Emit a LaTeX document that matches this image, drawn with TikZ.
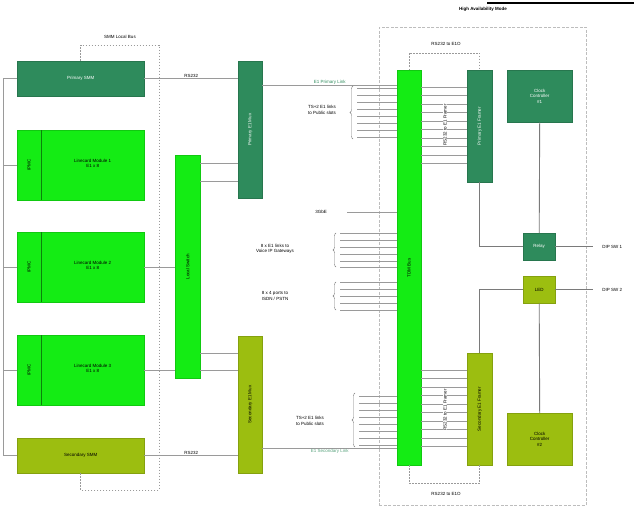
\documentclass[tikz,border=0pt]{standalone}
\usepackage{fontspec}
\setmainfont{Liberation Sans}
\usetikzlibrary{decorations.pathreplacing,calc}

\definecolor{smmdark}{HTML}{2E8B5C}
\definecolor{brightg}{HTML}{14EC14}
\definecolor{olivegr}{HTML}{9CBE10}
\definecolor{wire}{HTML}{9A9A9A}
\definecolor{darkwire}{HTML}{7A7A7A}
\definecolor{frame}{HTML}{BDBDBD}

\tikzset{
  blk/.style={draw=#1!85!black, fill=#1, line width=0.4pt, inner sep=0pt, anchor=north west},
  vtext/.style={rotate=90, inner sep=0pt},
  wireline/.style={draw=wire, line width=0.5pt},
  heavywire/.style={draw=darkwire, line width=0.9pt},
  busdash/.style={draw=wire, line width=0.5pt, dash pattern=on 1.5pt off 1.5pt},
  lbl/.style={inner sep=0.5pt, align=center},
  bracelbl/.style={draw=darkwire, line width=0.4pt, decorate, decoration={brace, amplitude=3pt}},
}

\begin{document}
\begin{tikzpicture}[x=1pt, y=-1pt, font=\fontsize{4.5}{5.4}\selectfont]
\useasboundingbox (0,0) rectangle (634,511);

% ---------- left column: SMMs and line cards ----------
\node[blk=smmdark, minimum width=127, minimum height=35] (psmm) at (17,61) {};
\node[lbl, text=white] at (psmm.center) {Primary SMM};

\foreach \n/\y/\t in {lc1/130/1, lc2/232/2, lc3/335/3}{
  \node[blk=brightg, minimum width=127, minimum height=70] (\n) at (17,\y) {};
  \draw[draw=brightg!55!black, line width=0.4pt]
    ($(\n.north west)+(24,0)$) -- ($(\n.south west)+(24,0)$);
  \node[vtext] at ($(\n.west)+(12,0)$) {IPMC};
  \node[lbl] at ($(\n.center)+(12,-2)$) {Linecard Module \t\\E1 x 8};
}

\node[blk=olivegr, minimum width=127, minimum height=35] (ssmm) at (17,438) {};
\node[lbl] at (ssmm.center) {Secondary SMM};

% shared backplane line on the far left
\coordinate (lb) at (3,0);
\draw[wireline] (psmm.west) -| (lb |- ssmm.west) -- (ssmm.west);
\foreach \n in {lc1,lc2,lc3}{ \draw[wireline] (lb |- \n.west) -- (\n.west); }

% SMM local bus
\draw[busdash] (psmm.north) |- (159,45) -- (159,490) -| (ssmm.south);
\node[lbl] at (120,37) {SMM Local Bus};

% ---------- switch and E1 multiplexers ----------
\node[blk=brightg, minimum width=25, minimum height=223] (lsw) at (175,155) {};
\node[vtext] at (lsw.center) {Local Switch};

\node[blk=smmdark, minimum width=24, minimum height=137] (pmux) at (238,61) {};
\node[vtext, text=white] at (pmux.center) {Primary E1 Mux};

\node[blk=olivegr, minimum width=24, minimum height=137] (smux) at (238,336) {};
\node[vtext] at (smux.center) {Secondary E1 Mux};

\draw[wireline] (psmm.east) -- node[lbl, above=0.3pt] {RS232} (pmux.west |- psmm.east);
\draw[wireline] (ssmm.east) -- node[lbl, above=0.3pt] {RS232} (smux.west |- ssmm.east);

\draw[wireline] (lc2.east) -- (lsw.west |- lc2.east);
\draw[wireline] (lc3.east) -- (lsw.west |- lc3.east);
\foreach \y in {163,181}{ \draw[wireline] (lsw.east |- 0,\y) -- (pmux.west |- 0,\y); }
\foreach \y in {353,370}{ \draw[wireline] (lsw.east |- 0,\y) -- (smux.west |- 0,\y); }

% ---------- high availability area ----------
\node[draw=frame, line width=0.5pt, dash pattern=on 3pt off 1.5pt, minimum width=207,
      minimum height=478, anchor=north west, inner sep=0pt] (ha) at (379,27) {};
\node[lbl] at (483,9) {\bfseries High Availability Mode};
\draw[line width=1.5pt] (487,3) -- (634,3);

\node[blk=brightg, minimum width=24, minimum height=395] (bus) at (397,70) {};
\node[vtext] at (bus.center) {TDM Bus};

\node[blk=smmdark, minimum width=25, minimum height=112] (pfr) at (467,70) {};
\node[vtext, text=white] at (pfr.center) {Primary E1 Framer};

\node[blk=olivegr, minimum width=25, minimum height=112] (sfr) at (467,353) {};
\node[vtext] at (sfr.center) {Secondary E1 Framer};

\node[blk=smmdark, minimum width=65, minimum height=52] (pcc) at (507,70) {};
\node[lbl, text=white] at (pcc.center) {Clock\\Controller\\\#1};

\node[blk=olivegr, minimum width=65, minimum height=52] (scc) at (507,413) {};
\node[lbl] at (scc.center) {Clock\\Controller\\\#2};

\node[blk=smmdark, minimum width=32, minimum height=27] (relay) at (523,233) {};
\node[lbl, text=white] at (relay.center) {Relay};

\node[blk=olivegr, minimum width=32, minimum height=27] (led) at (523,276) {};
\node[lbl] at (led.center) {LED};

% E1 links from the multiplexers to the TDM bus
\draw[wireline] (pmux.east |- 0,85) -- node[lbl, above=0.3pt, text=smmdark, pos=0.5] {E1 Primary Link} (bus.west |- 0,85);
\draw[wireline] (smux.east |- 0,448) -- node[lbl, below=0.3pt, text=smmdark!80, pos=0.5] {E1 Secondary Link} (bus.west |- 0,448);

% public slot bundles
\foreach \y in {88,95,...,137}{ \draw[wireline, line width=0.35pt] (357,\y) -- (bus.west |- 0,\y); }
\draw[bracelbl] (353,139) -- (353,86);
\node[lbl] at (322,110) {TS+2 E1 links\\to Public slots};

\foreach \y in {396,403,...,445}{ \draw[wireline, line width=0.35pt] (359,\y) -- (bus.west |- 0,\y); }
\draw[bracelbl] (355,447) -- (355,393);
\node[lbl] at (310,421) {TS+2 E1 links\\to Public slots};

% gateway and ISDN bundles
\draw[wireline] (347,212) -- (bus.west |- 0,212);
\node[lbl] at (321,212) {3GbE};

\foreach \y in {233,240,247,254,261,267}{ \draw[wireline, line width=0.35pt] (340,\y) -- (bus.west |- 0,\y); }
\draw[bracelbl] (336,267) -- (336,233);
\node[lbl] at (275,249) {8 x E1 links to\\Voice IP Gateways};

\foreach \y in {282,289,296,303,310}{ \draw[wireline, line width=0.35pt] (340,\y) -- (bus.west |- 0,\y); }
\draw[bracelbl] (336,310) -- (336,282);
\node[lbl] at (275,296) {8 x 4 ports to\\ISDN / PSTN};

% bus to framer lines
\foreach \y in {87,95.5,...,165}{ \draw[wireline, line width=0.35pt] (bus.east |- 0,\y) -- (pfr.west |- 0,\y); }
\node[vtext, fill=white, inner sep=0.5pt] at (445,125) {RS232 to E1 Framer};
\foreach \y in {370,378.5,...,449}{ \draw[wireline, line width=0.35pt] (bus.east |- 0,\y) -- (sfr.west |- 0,\y); }
\node[vtext, fill=white, inner sep=0.5pt] at (445,410) {RS232 to E1 Framer};

% control links between bus and framers
\draw[busdash] (bus.north) -- ++(0,-17) -| (pfr.north);
\node[lbl] at (446,44) {RS232 to E1O};
\draw[busdash] (bus.south) -- ++(0,18) -| (sfr.south);
\node[lbl] at (446,494) {RS232 to E1O};

% relay / LED / DIP switch wiring
\draw[heavywire] (pcc.south) -- (relay.north);
\draw[heavywire] (pfr.south) |- (relay.west);
\draw[heavywire] (relay.east) -- ++(38,0) node[lbl, right=8pt] {DIP SW 1};
\draw[heavywire] (scc.north) -- (led.south);
\draw[heavywire] (sfr.north) |- (led.west);
\draw[heavywire] (led.east) -- ++(38,0) node[lbl, right=8pt] {DIP SW 2};
\end{tikzpicture}
\end{document}
